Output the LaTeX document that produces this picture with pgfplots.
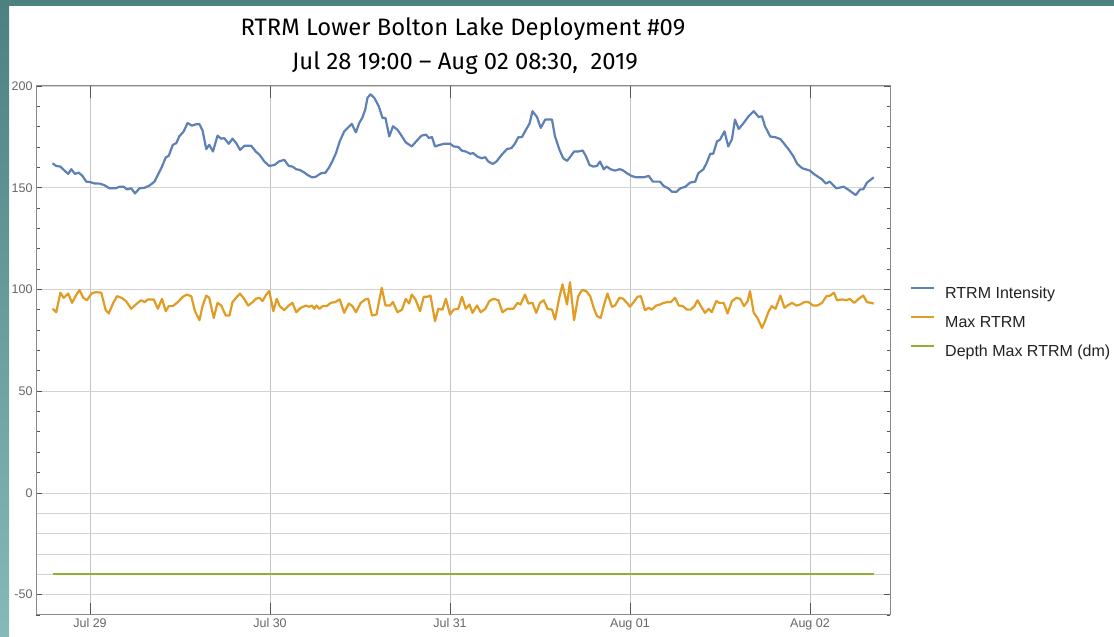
\documentclass[border=0pt]{standalone}
\usepackage{fontspec}
\setmainfont{Liberation Sans}
\newfontfamily\titlefont{Fira Sans}
\usepackage{pgfplots}
\pgfplotsset{compat=1.18}
\definecolor{mblue}{HTML}{5E81B5}
\definecolor{morange}{HTML}{E19C24}
\definecolor{mgreen}{HTML}{8FB032}
\definecolor{tealA}{HTML}{4D8180}
\definecolor{tealB}{HTML}{86BAB6}
\definecolor{framec}{HTML}{8A8A8A}
\definecolor{gridc}{HTML}{D2D2D2}
\definecolor{vgridc}{HTML}{C4C4C4}
\definecolor{tickc}{HTML}{666666}
\definecolor{tickm}{HTML}{555555}
\definecolor{legc}{HTML}{222222}
\begin{document}
\begin{tikzpicture}[x=1pt,y=1pt]
\path[use as bounding box] (0,0) rectangle (1114,637);
\fill[white] (0,0) rectangle (1114,637);
\shade[top color=tealA, bottom color=tealB] (0,0) rectangle (9,637);
\fill[tealA] (0,631) rectangle (1114,637);
\node[anchor=base, font=\titlefont\fontsize{23.8}{25}\selectfont] at (463,601) {RTRM Lower Bolton Lake Deployment \#09};
\node[anchor=base, font=\titlefont\fontsize{23.8}{25}\selectfont] at (465,567.5) {Jul 28 19:00 – Aug 02 08:30,\ \ 2019};
\begin{axis}[
  at={(36pt,22pt)}, anchor=south west, width=854pt, height=529pt, scale only axis,
  xmin=-7.2, xmax=106.67, ymin=-60, ymax=200,
  axis line style={draw=framec, line width=1pt},
  xtick={0,24,48,72,96}, xticklabels={Jul 29,Jul 30,Jul 31,Aug 01,Aug 02},
  ytick={-50,0,50,100,150,200}, yticklabels={-50,0,50,100,150,200},
  minor ytick={-60,-50,...,200},
  extra y ticks={-40,-30,-20,-10}, extra y tick labels={},
  extra y tick style={grid=major, major tick length=0pt},
  xmajorgrids, ymajorgrids,
  x grid style={vgridc, line width=0.8pt},
  y grid style={gridc, line width=0.8pt},
  tick align=inside, major tick length=6pt, minor tick length=3.5pt,
  tick style={tickm, line width=0.8pt},
  ticklabel style={font=\fontsize{12.5}{13}\selectfont, text=tickc},
  legend cell align=left,
  legend style={at={(1.0234,0.5544)}, anchor=west, draw=none, fill=none,
    inner sep=0pt, outer sep=0pt, row sep=18pt, column sep=10pt,
    font=\fontsize{16}{16}\selectfont, text=legc,
    nodes={inner sep=0pt, text height=10pt, text depth=0pt}},
  legend image code/.code={\draw[#1] (0pt,5pt) -- (23pt,5pt);},
]
\addplot[mblue, line width=2.2pt, line join=round] coordinates {
(-5.0,162.0) (-4.5,160.7) (-3.95,160.4) (-3.6,159.1) (-2.9,156.8) (-2.5,159.1) (-2.0,156.8) (-1.5,157.4) (-1.0,155.8) (-0.5,153.0)
(0.0,152.8) (0.6,152.1) (1.3,152.0) (1.95,151.2) (2.6,149.7) (3.4,149.7) (3.95,150.5) (4.5,150.5) (4.9,149.2) (5.5,149.7)
(6.0,147.2) (6.6,149.7) (7.3,150.0) (7.9,151.0) (8.6,153.0) (9.05,156.3) (9.6,160.4) (10.1,164.9) (10.5,165.7) (11.05,171.1)
(11.5,171.9) (11.9,175.2) (12.5,177.7) (13.0,181.8) (13.6,180.5) (14.15,181.2) (14.6,181.2) (15.0,178.2) (15.5,169.0) (15.9,171.1)
(16.4,167.8) (17.0,175.6) (17.5,174.1) (17.9,174.4) (18.5,171.6) (19.0,174.1) (19.5,171.9) (20.0,168.6) (20.6,170.6) (21.5,170.6)
(22.1,167.8) (22.6,166.2) (23.25,162.9) (23.9,160.7) (24.6,161.2) (25.2,162.9) (25.9,163.7) (26.5,160.7) (27.0,160.4) (27.5,159.1)
(28.0,158.7) (28.6,157.4) (29.0,156.3) (29.6,155.1) (30.1,155.4) (30.8,157.1) (31.4,157.4) (31.9,160.1) (32.3,162.9) (32.8,167.0)
(33.3,172.8) (33.9,177.7) (34.5,179.9) (34.9,181.4) (35.45,177.2) (35.9,181.8) (36.3,184.3) (36.7,188.4) (37.0,194.2) (37.4,195.9)
(37.9,194.2) (38.5,190.1) (39.0,184.3) (39.4,184.3) (39.9,175.2) (40.4,180.2) (41.0,178.5) (41.6,175.2) (42.1,172.3) (42.9,170.3)
(43.5,172.8) (44.2,175.6) (44.8,176.1) (45.2,174.4) (45.6,174.9) (46.0,170.3) (46.5,170.9) (47.2,171.6) (48.0,171.6) (48.5,170.3)
(49.1,170.0) (49.6,168.2) (50.1,167.8) (50.7,166.7) (51.1,167.0) (51.65,165.3) (52.2,164.5) (52.7,165.0) (53.1,162.9) (53.7,161.7)
(54.2,162.9) (54.9,166.2) (55.6,169.0) (56.2,169.5) (56.7,171.9) (57.1,174.8) (57.6,174.9) (58.0,177.7) (58.6,181.5) (59.0,187.6)
(59.6,184.8) (60.1,179.4) (60.7,183.5) (61.6,183.5) (62.0,175.2) (62.6,168.6) (63.1,164.5) (63.6,163.2) (64.0,165.0) (64.55,167.8)
(65.1,167.8) (65.7,168.3) (66.15,165.3) (66.6,161.2) (67.1,160.4) (67.6,160.7) (68.0,162.9) (68.5,159.1) (68.9,160.4) (69.4,159.1)
(70.0,158.4) (70.6,159.1) (71.0,158.7) (71.6,157.1) (72.2,155.8) (72.8,155.1) (73.8,155.1) (74.5,155.8) (75.05,153.0) (76.0,153.0)
(76.5,150.8) (77.1,149.7) (77.6,148.0) (78.2,148.0) (78.7,149.7) (79.4,150.5) (80.0,152.5) (80.7,153.0) (81.1,157.1) (81.8,159.1)
(82.25,162.4) (82.7,166.7) (83.1,166.7) (83.6,172.8) (84.0,173.6) (84.6,177.7) (85.1,170.3) (85.6,173.9) (86.0,183.5) (86.5,178.9)
(87.15,181.8) (87.8,185.1) (88.5,187.6) (89.15,184.8) (89.6,185.1) (90.0,180.2) (90.7,175.2) (91.4,174.8) (92.05,173.9) (92.5,171.9)
(93.2,168.6) (93.75,165.7) (94.3,161.7) (94.95,159.6) (96.0,158.4) (96.5,156.8) (97.2,155.1) (97.6,154.1) (98.1,152.1) (98.65,153.0)
(99.5,149.7) (100.5,150.5) (101.2,148.8) (102.1,146.4) (102.7,149.2) (103.1,149.2) (103.6,152.5) (104.5,155.1)
};
\addlegendentry{RTRM Intensity}
\addplot[morange, line width=2.2pt, line join=round] coordinates {
(-5.0,90.6) (-4.5,88.8) (-3.95,98.4) (-3.5,95.9) (-2.9,98.0) (-2.4,93.4) (-1.8,97.5) (-1.4,99.7) (-0.9,95.9) (-0.4,94.7)
(0.2,98.0) (0.75,98.7) (1.5,98.4) (2.1,89.8) (2.5,88.2) (3.1,93.4) (3.6,96.7) (4.2,95.9) (4.8,94.3) (5.5,90.5)
(6.2,92.9) (6.8,94.7) (7.3,93.8) (7.7,95.1) (8.5,95.1) (9.05,90.5) (9.6,95.4) (10.1,89.3) (10.5,91.8) (11.05,91.8)
(11.7,93.8) (12.4,96.4) (12.9,97.5) (13.5,96.7) (14.0,89.3) (14.6,84.9) (15.0,91.8) (15.5,97.0) (15.9,95.9) (16.5,86.0)
(17.0,93.4) (17.5,92.1) (18.1,87.2) (18.6,87.2) (19.0,93.8) (19.6,96.4) (20.0,98.0) (20.6,95.1) (21.1,92.1) (21.7,93.8)
(22.1,95.4) (22.6,95.9) (23.0,94.3) (23.5,97.5) (23.9,99.2) (24.45,89.3) (24.9,95.4) (25.3,91.8) (25.9,89.8) (26.5,92.1)
(27.0,93.4) (27.5,88.8) (28.1,91.0) (28.8,92.1) (29.2,91.5) (29.6,92.1) (29.9,90.5) (30.2,92.1) (30.6,90.5) (31.0,91.8)
(31.55,91.8) (32.1,93.4) (32.7,93.8) (33.3,95.1) (33.9,88.5) (34.5,93.1) (35.0,91.8) (35.45,88.8) (36.1,93.4) (36.7,95.1)
(37.1,95.4) (37.6,87.2) (38.2,87.7) (38.9,100.8) (39.4,92.1) (40.0,92.1) (40.4,93.8) (41.0,88.8) (41.6,90.1) (42.1,95.4)
(42.55,93.1) (42.9,97.5) (43.4,95.1) (44.0,89.3) (44.5,96.4) (45.0,96.4) (45.4,97.0) (46.0,84.4) (46.45,90.5) (47.0,90.1)
(47.45,95.4) (48.0,87.7) (48.5,90.1) (49.1,90.5) (49.6,96.4) (50.1,90.5) (50.6,92.6) (51.0,88.5) (51.6,92.1) (52.1,88.8)
(52.7,90.5) (53.25,94.3) (53.8,95.4) (54.45,94.7) (55.0,88.8) (55.65,90.5) (56.45,90.5) (57.0,93.4) (57.4,92.6) (58.0,97.5)
(58.45,93.1) (59.0,93.4) (59.5,88.5) (60.0,93.4) (60.5,94.7) (61.0,90.5) (61.6,90.1) (62.0,85.2) (62.6,96.4) (63.0,102.5)
(63.6,92.6) (64.0,103.6) (64.55,84.9) (65.1,96.7) (65.6,99.7) (66.15,99.2) (66.7,96.7) (67.2,90.5) (67.6,86.9) (68.1,86.0)
(68.55,92.6) (69.0,98.0) (69.6,91.5) (70.0,92.1) (70.6,95.9) (71.1,95.4) (71.6,93.4) (72.0,91.5) (72.6,94.3) (73.0,96.4)
(73.45,96.7) (74.0,89.8) (74.5,91.0) (74.9,90.1) (75.5,92.1) (76.0,92.6) (76.5,93.4) (77.0,93.8) (77.45,93.8) (78.0,95.9)
(78.5,92.1) (79.05,91.8) (79.6,90.1) (80.1,90.1) (80.6,91.8) (81.0,94.7) (81.45,91.8) (82.0,88.5) (82.5,90.5) (82.9,88.8)
(83.5,94.3) (83.9,93.4) (84.5,93.4) (85.0,88.2) (85.6,94.3) (86.2,95.9) (86.7,95.4) (87.2,91.8) (87.7,94.3) (88.0,99.2)
(88.5,88.5) (89.0,86.0) (89.6,81.1) (90.0,84.4) (90.5,89.3) (90.9,91.8) (91.4,90.5) (92.05,97.0) (92.6,91.0) (93.0,92.1)
(93.6,93.4) (94.2,92.1) (94.7,92.6) (95.25,93.8) (95.8,93.8) (96.4,92.1) (97.0,92.1) (97.6,93.4) (98.2,96.7) (98.7,97.0)
(99.2,98.4) (99.6,94.7) (100.3,95.1) (100.85,94.7) (101.3,95.4) (101.9,93.4) (102.5,95.4) (103.1,97.0) (103.6,93.8) (104.5,93.1)
};
\addlegendentry{Max RTRM}
\addplot[mgreen, line width=2.2pt] coordinates {(-5.0,-40) (24,-40) (48,-40) (72,-40) (96,-40) (104.5,-40)};
\addlegendentry{Depth Max RTRM (dm)}
\end{axis}
\begin{axis}[
  at={(36pt,22pt)}, anchor=south west, width=854pt, height=529pt, scale only axis,
  xmin=-7.2, xmax=106.67, ymin=-60, ymax=200,
  axis line style={draw=framec, line width=1pt},
  xtick={0,24,48,72,96}, xticklabels={}, ytick=\empty,
  tick align=inside, major tick length=12pt,
  tick style={tickm, line width=0.8pt},
]
\end{axis}
\end{tikzpicture}
\end{document}
